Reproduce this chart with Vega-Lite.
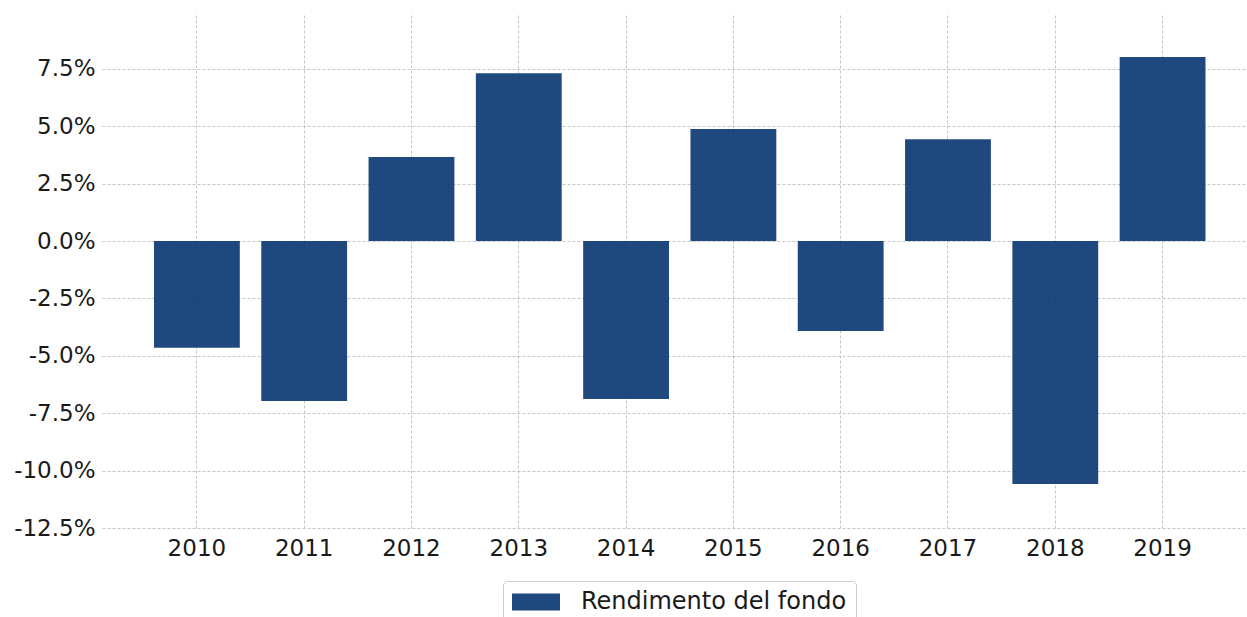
{
  "$schema": "https://vega.github.io/schema/vega-lite/v6.json",
  "autosize": "none",
  "width": 1145,
  "height": 515,
  "padding": {"left": 102, "top": 15, "right": 0, "bottom": 87},
  "background": "white",
  "config": {
    "font": "DejaVu Sans",
    "view": {"stroke": null}
  },
  "data": {
    "values": [
      {"year": "2010", "ret": -0.0464, "serie": "Rendimento del fondo"},
      {"year": "2011", "ret": -0.0696, "serie": "Rendimento del fondo"},
      {"year": "2012", "ret": 0.0365, "serie": "Rendimento del fondo"},
      {"year": "2013", "ret": 0.073, "serie": "Rendimento del fondo"},
      {"year": "2014", "ret": -0.0687, "serie": "Rendimento del fondo"},
      {"year": "2015", "ret": 0.0487, "serie": "Rendimento del fondo"},
      {"year": "2016", "ret": -0.0391, "serie": "Rendimento del fondo"},
      {"year": "2017", "ret": 0.0443, "serie": "Rendimento del fondo"},
      {"year": "2018", "ret": -0.1057, "serie": "Rendimento del fondo"},
      {"year": "2019", "ret": 0.08, "serie": "Rendimento del fondo"}
    ]
  },
  "mark": {"type": "bar", "opacity": 0.9},
  "encoding": {
    "x": {
      "field": "year",
      "type": "nominal",
      "sort": null,
      "scale": {"paddingInner": 0.2, "paddingOuter": 0.4355, "align": 0.556},
      "axis": {
        "title": null,
        "labelAngle": 0,
        "labelFontSize": 23,
        "labelColor": "#1a1a1a",
        "labelPadding": 7,
        "ticks": false,
        "domain": false,
        "grid": true,
        "gridColor": "#b8b8b8",
        "gridDash": [3, 2],
        "gridWidth": 0.8
      }
    },
    "y": {
      "field": "ret",
      "type": "quantitative",
      "scale": {"domain": [-0.1257, 0.0983], "nice": false, "zero": false},
      "axis": {
        "title": null,
        "values": [-0.125, -0.1, -0.075, -0.05, -0.025, 0, 0.025, 0.05, 0.075],
        "labelExpr": "replace(format(datum.value, '.1%'), '\u2212', '-')",
        "labelFontSize": 23,
        "labelColor": "#1a1a1a",
        "labelPadding": 7,
        "ticks": false,
        "domain": false,
        "grid": true,
        "gridColor": "#b8b8b8",
        "gridDash": [3, 2],
        "gridWidth": 0.8
      }
    },
    "color": {
      "field": "serie",
      "type": "nominal",
      "scale": {"range": ["#073570"]},
      "legend": {
        "title": null,
        "orient": "none",
        "legendX": 401,
        "legendY": 566,
        "symbolType": "M-2,-0.708H2V0.708H-2Z",
        "symbolSize": 576,
        "symbolOffset": 12,
        "symbolOpacity": 0.9,
        "symbolStrokeWidth": 0,
        "labelFontSize": 24,
        "labelLimit": 500,
        "labelColor": "#1a1a1a",
        "labelOffset": 33,
        "padding": 9,
        "strokeColor": "#cccccc",
        "fillColor": "white",
        "cornerRadius": 4
      }
    }
  }
}
